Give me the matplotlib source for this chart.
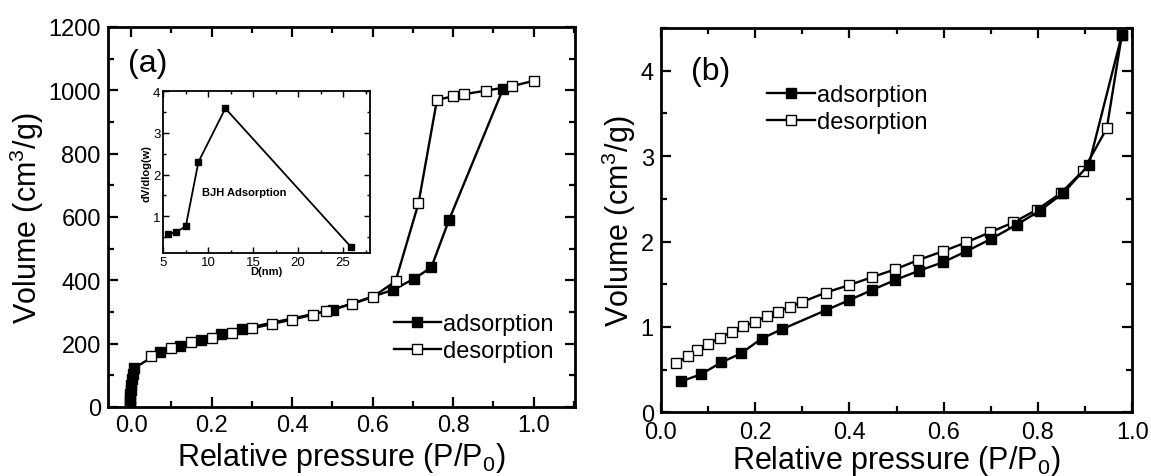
import numpy as np
import matplotlib
matplotlib.use("Agg")
import matplotlib.pyplot as plt
from matplotlib.ticker import MultipleLocator

plt.rcParams['font.family'] = ['Liberation Sans', 'DejaVu Sans']
plt.rcParams['mathtext.fontset'] = 'custom'
plt.rcParams['mathtext.rm'] = 'Liberation Sans'

# --- (a) isoterma da amostra ---
ads_a_x = [-0.003, -0.003, -0.002, -0.002, -0.001, 0.0, 0.002, 0.004, 0.007,
           0.072, 0.121, 0.173, 0.224, 0.276, 0.502, 0.651, 0.702, 0.746, 0.790, 0.924]
ads_a_y = [2, 12, 25, 40, 55, 70, 88, 105, 122,
           173, 194, 213, 231, 246, 307, 370, 404, 441, 591, 1004]
des_a_x = [1.0, 0.946, 0.882, 0.828, 0.800, 0.760, 0.714, 0.657, 0.601, 0.549,
           0.485, 0.451, 0.400, 0.350, 0.300, 0.250, 0.200, 0.148, 0.098, 0.049]
des_a_y = [1030, 1013, 999, 988, 981, 970, 643, 397, 348, 325,
           304, 291, 276, 262, 248, 234, 218, 204, 185, 160]

# --- inset BJH ---
bjh_d = [5.5, 6.4, 7.5, 8.9, 11.9, 25.9]
bjh_v = [0.58, 0.62, 0.76, 2.30, 3.59, 0.26]

# --- (b) ---
ads_b_x = [0.042, 0.085, 0.128, 0.170, 0.214, 0.257, 0.350, 0.399, 0.448, 0.497,
           0.548, 0.598, 0.648, 0.700, 0.755, 0.804, 0.854, 0.908, 0.978]
ads_b_y = [0.361, 0.444, 0.584, 0.689, 0.864, 0.973, 1.195, 1.312, 1.432, 1.549,
           1.659, 1.756, 1.885, 2.029, 2.197, 2.361, 2.568, 2.900, 4.420]
des_b_x = [0.978, 0.946, 0.896, 0.848, 0.798, 0.748, 0.698, 0.648, 0.598, 0.546,
           0.497, 0.449, 0.400, 0.350, 0.300, 0.274, 0.249, 0.225, 0.200, 0.175,
           0.150, 0.126, 0.101, 0.076, 0.058, 0.032]
des_b_y = [4.420, 3.325, 2.829, 2.564, 2.373, 2.224, 2.107, 1.990, 1.885, 1.783,
           1.674, 1.584, 1.491, 1.402, 1.292, 1.238, 1.180, 1.128, 1.058, 1.005,
           0.942, 0.876, 0.798, 0.731, 0.661, 0.572]

fig = plt.figure(figsize=(11.51, 4.77), dpi=100)
ax_a = fig.add_axes([0.0936, 0.1447, 0.406, 0.7966])
ax_b = fig.add_axes([0.5741, 0.1335, 0.4096, 0.8057])
ax_in = fig.add_axes([0.1419, 0.4675, 0.1796, 0.339])


def estilo(ax, lw=2.0, tam=17, maj=7, mnr=4):
    for s in ax.spines.values():
        s.set_linewidth(lw)
    ax.tick_params(which='both', direction='in', top=True, right=True,
                   width=lw * 0.8, labelsize=tam, pad=5)
    ax.tick_params(which='major', length=maj)
    ax.tick_params(which='minor', length=mnr)


# --- painel (a) ---
ax_a.plot(ads_a_x, ads_a_y, '-s', color='black', lw=1.7, ms=7.5,
          mfc='black', mec='black', label='adsorption')
ax_a.plot(des_a_x, des_a_y, '-s', color='black', lw=1.7, ms=7.5,
          mfc='white', mec='black', mew=1.0, label='desorption')
ax_a.set_xlim(-0.058, 1.103)
ax_a.set_ylim(0, 1200)
ax_a.xaxis.set_major_locator(MultipleLocator(0.2))
ax_a.xaxis.set_minor_locator(MultipleLocator(0.1))
ax_a.yaxis.set_major_locator(MultipleLocator(200))
ax_a.yaxis.set_minor_locator(MultipleLocator(100))
ax_a.set_xticks([0.0, 0.2, 0.4, 0.6, 0.8, 1.0])
ax_a.set_xticklabels(['0.0', '0.2', '0.4', '0.6', '0.8', '1.0'])
estilo(ax_a)
ax_a.set_xlabel(r'Relative pressure (P/P$\mathregular{_0}$)', fontsize=22, labelpad=3)
ax_a.set_ylabel(r'Volume (cm$\mathregular{^3}$/g)', fontsize=22, labelpad=2)
ax_a.text(0.043, 0.905, '(a)', transform=ax_a.transAxes, fontsize=23, va='center')
ax_a.legend(loc='center left', bbox_to_anchor=(0.612, 0.183), frameon=False,
            fontsize=17, handlelength=2.0, handletextpad=0.1, labelspacing=0.2,
            borderpad=0, borderaxespad=0)

# --- inset ---
ax_in.plot(bjh_d, bjh_v, '-s', color='black', lw=1.3, ms=5)
ax_in.set_xlim(5, 28)
ax_in.set_ylim(0.12, 4)
ax_in.xaxis.set_major_locator(MultipleLocator(5))
ax_in.xaxis.set_minor_locator(MultipleLocator(2.5))
ax_in.yaxis.set_major_locator(MultipleLocator(1))
ax_in.yaxis.set_minor_locator(MultipleLocator(0.5))
estilo(ax_in, lw=1.3, tam=9.5, maj=4, mnr=2.5)
ax_in.tick_params(pad=2)
ax_in.set_xlabel('D(nm)', fontsize=8, fontweight='bold', labelpad=-1)
ax_in.set_ylabel('dV/dlog(w)', fontsize=8, fontweight='bold', labelpad=1)
ax_in.text(9.35, 1.58, 'BJH Adsorption', fontsize=8, fontweight='bold', va='center')

# --- painel (b) ---
ax_b.plot(des_b_x, des_b_y, '-s', color='black', lw=1.7, ms=7.5,
          mfc='white', mec='black', mew=1.0, label='desorption')
ax_b.plot(ads_b_x, ads_b_y, '-s', color='black', lw=1.7, ms=7.5,
          mfc='black', mec='black', label='adsorption')
ax_b.set_xlim(0, 1.0)
ax_b.set_ylim(0, 4.5)
ax_b.xaxis.set_major_locator(MultipleLocator(0.2))
ax_b.xaxis.set_minor_locator(MultipleLocator(0.1))
ax_b.yaxis.set_major_locator(MultipleLocator(1))
ax_b.yaxis.set_minor_locator(MultipleLocator(0.5))
estilo(ax_b)
ax_b.tick_params(axis='x', pad=6)
ax_b.set_xlabel(r'Relative pressure (P/P$\mathregular{_0}$)', fontsize=22, labelpad=0)
ax_b.set_ylabel(r'Volume (cm$\mathregular{^3}$/g)', fontsize=22, labelpad=2)
ax_b.text(0.065, 0.887, '(b)', transform=ax_b.transAxes, fontsize=23, va='center')
h, l = ax_b.get_legend_handles_labels()
ax_b.legend(h[::-1], l[::-1], loc='center left', bbox_to_anchor=(0.226, 0.79),
            frameon=False, fontsize=17, handlelength=2.0, handletextpad=0.1,
            labelspacing=0.2, borderpad=0, borderaxespad=0)

fig.savefig('out.png', dpi=100)
